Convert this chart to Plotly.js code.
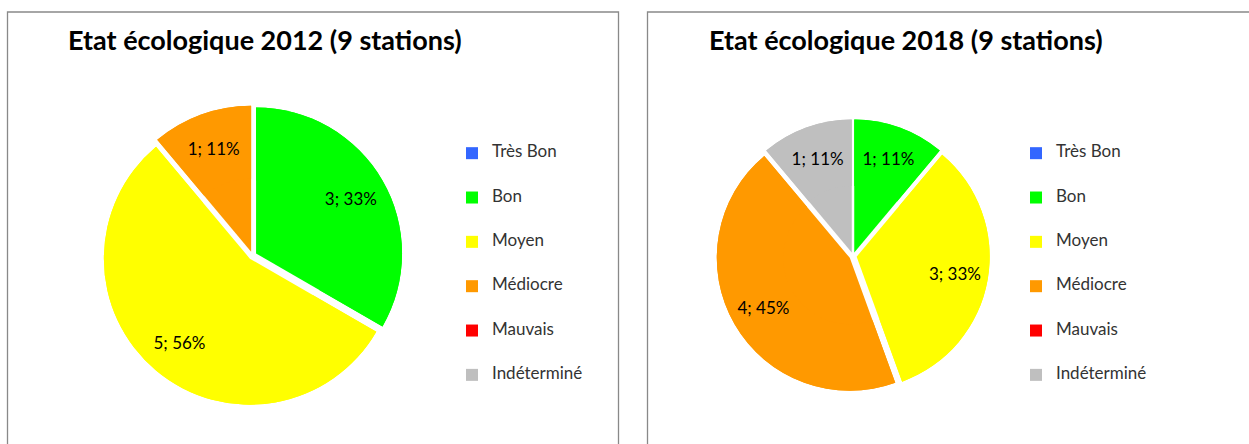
<!DOCTYPE html>
<html>
<head>
<meta charset="utf-8">
<script src="https://cdn.plot.ly/plotly-3.0.1.min.js"></script>
<style>
html, body { margin: 0; padding: 0; background: #ffffff; overflow: hidden; }
#wrap { position: relative; width: 1249px; height: 444px; }
#chart2012 { position: absolute; left: 0; top: 0; width: 633px; height: 444px; }
#chart2018 { position: absolute; left: 633px; top: 0; width: 616px; height: 444px; }
</style>
</head>
<body>
<div id="wrap">
  <div id="chart2012"></div>
  <div id="chart2018"></div>
</div>
<script>
// ---- data ----
var categories = ['Très Bon', 'Bon', 'Moyen', 'Médiocre', 'Mauvais', 'Indéterminé'];
var values2012 = [0, 3, 5, 1, 0, 0];
var percent2012 = ['0%', '33%', '56%', '11%', '0%', '0%'];
var values2018 = [0, 1, 3, 4, 0, 1];
var percent2018 = ['0%', '11%', '33%', '45%', '0%', '11%'];
var colors = ['#3366FF', '#00FF00', '#FFFF00', '#FF9900', '#FF0000', '#BFBFBF'];
var title2012 = 'Etat écologique 2012 (9 stations)';
var title2018 = 'Etat écologique 2018 (9 stations)';

var FONT = 'Lato, "Open Sans", sans-serif';
var H = 444;
var PULL = 0.028;

// legend labels: visible name centred between blank lines to get Excel-like spacing
function legendLabels(cats) {
  return cats.map(function (c) {
    return ' <br><span style="font-size:17px">' + c + '</span><br> ';
  });
}
function templates(vals) {
  return vals.map(function (v) { return v ? '%{value}; %{text}' : ''; });
}

function makeChart(div, W, values, pct, title, pieC, r, titleX, legendX, frame) {
  var half = r * (1 + PULL);
  var domain = {
    x: [(pieC[0] - half) / W, (pieC[0] + half) / W],
    y: [1 - (pieC[1] + half) / H, 1 - (pieC[1] - half) / H]
  };
  var common = {
    type: 'pie',
    labels: legendLabels(categories),
    values: values,
    sort: false,
    direction: 'clockwise',
    rotation: 0,
    pull: PULL,
    marker: { colors: colors, line: { width: 0 } },
    domain: domain,
    hoverinfo: 'none'
  };
  // full pie (slices + legend)
  var base = Object.assign({}, common, { textinfo: 'none', showlegend: true });
  // same pie as a ring on top, only to carry the data labels further out like Excel
  var labelsRing = Object.assign({}, common, {
    hole: 0.5,
    showlegend: false,
    text: pct,
    texttemplate: templates(values),
    textinfo: 'text',
    textposition: 'inside',
    insidetextorientation: 'horizontal',
    insidetextfont: { family: FONT, size: 17, color: '#000000' }
  });
  var layout = {
    width: W,
    height: H,
    margin: { l: 0, r: 0, t: 0, b: 0 },
    paper_bgcolor: 'rgba(0,0,0,0)',
    showlegend: true,
    legend: {
      font: { family: FONT, size: 10.6, color: '#333333' },
      bgcolor: 'rgba(0,0,0,0)',
      borderwidth: 0,
      yanchor: 'middle',
      y: 1 - 264.5 / H,
      xanchor: 'left',
      x: legendX / W,
      traceorder: 'normal'
    },
    annotations: [
      { text: '<b>' + title + '</b>', xref: 'paper', yref: 'paper', x: titleX / W, y: 1 - 40 / H,
        xanchor: 'center', yanchor: 'middle', showarrow: false,
        font: { family: FONT, size: 27, color: '#000000' } }
    ],
    shapes: [
      { type: 'rect', xref: 'paper', yref: 'paper', x0: frame[0] / W, x1: frame[1] / W, y0: -20 / H, y1: 1 - 12 / H,
        line: { color: '#898989', width: 1.3 }, fillcolor: 'rgba(0,0,0,0)', layer: 'below' }
    ]
  };
  Plotly.newPlot(div, [base, labelsRing], layout, { displayModeBar: false, staticPlot: true });
}

makeChart('chart2012', 633, values2012, percent2012, title2012, [252.5, 255.5], 146, 265, 452, [7.5, 618.5]);
makeChart('chart2018', 616, values2018, percent2018, title2018, [220, 256], 133, 272.5, 383, [14.5, 640]);
</script>
</body>
</html>
